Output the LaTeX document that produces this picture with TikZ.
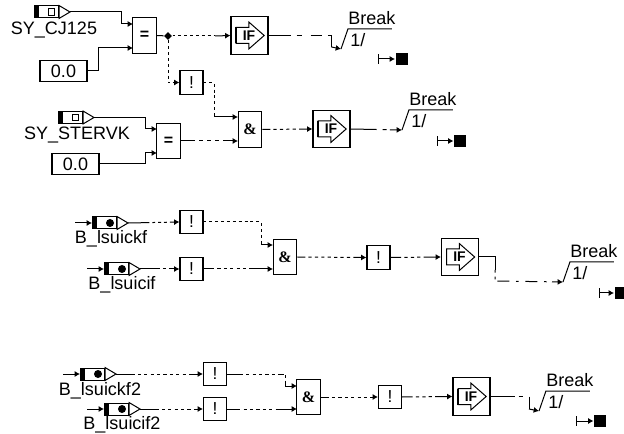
\documentclass[tikz,border=0pt]{standalone}
\usepackage{fontspec}
\setmainfont{Liberation Sans}
\newfontfamily\ampfont{Liberation Serif}
\usetikzlibrary{arrows.meta,shapes.geometric}
\tikzset{
  x=0.75pt,y=-0.75pt,
  every path/.style={line width=0.75pt},
  lab/.style={inner sep=0pt,font=\fontsize{13.5}{15}\selectfont},
  box/.style={draw,fill=white,inner sep=0pt,line width=0.8pt},
  notbox/.style={box,minimum width=17.25pt,minimum height=17.6pt,font=\fontsize{13}{13}\selectfont},
  opbox/.style={box,minimum width=17.6pt,minimum height=26.5pt,font=\fontsize{12}{12}\selectfont\bfseries},
  ifbox/.style={box,minimum width=27.75pt,minimum height=28pt},
  constbox/.style={box,minimum width=35.25pt,minimum height=15.4pt,font=\fontsize{13.5}{15}\selectfont},
  tagbody/.style={draw,fill=white,inner sep=0pt,minimum width=18pt,minimum height=9pt},
  termsq/.style={fill=black,inner sep=0pt,minimum size=9pt},
  junction/.style={diamond,fill=black,inner sep=0pt,minimum size=6pt},
  link/.style={-{Latex[length=4pt,width=4.5pt]}},
  dashC/.style={dash pattern=on 2.2pt off 2.2pt},
}
\newcommand{\tagshape}[4]{% name, left x, y, symbol(0 square,1 dot)
  \node[tagbody,anchor=west] (#1) at (#2,#3) {};
  \coordinate (#1tip) at ([xshift=8.25pt]#1.east);
  \filldraw[fill=white] (#1.north east) -- (#1tip) -- (#1.south east) -- cycle;
  \fill (#1.north west) rectangle ([xshift=4pt]#1.south west);
  \ifnum#4=0
    \draw[fill=white] ([xshift=10.5pt,yshift=-2.6pt]#1.west) rectangle ([xshift=15.5pt,yshift=2.6pt]#1.west);
  \else
    \fill ([xshift=13.5pt]#1.west) circle (3pt);
  \fi
}
\newcommand{\ifsym}[1]{%
  \draw[fill=white] ([shift={(-10.1pt,-6pt)}]#1.center) -- ([shift={(-0.4pt,-6pt)}]#1.center) -- ([shift={(-0.4pt,-10pt)}]#1.center) -- ([shift={(11pt,0pt)}]#1.center) -- ([shift={(-0.4pt,10pt)}]#1.center) -- ([shift={(-0.4pt,6pt)}]#1.center) -- ([shift={(-10.1pt,6pt)}]#1.center) -- cycle;
  \draw[line width=1.2pt] ([shift={(-10.1pt,-6pt)}]#1.center) -- ([shift={(-10.1pt,6pt)}]#1.center);
  \node[inner sep=0pt,font=\fontsize{10.5}{11}\selectfont\bfseries] at ([xshift=-0.4pt,yshift=0.2pt]#1.center) {IF};
}
\newcommand{\breaksym}[3]{% name, foot x, foot y
  \coordinate (#1) at (#2,#3);
  \coordinate (#1top) at ([shift={(5.2pt,15pt)}]#1);
  \draw (#1) -- (#1top) -- ([xshift=33pt]#1top);
  \node[lab] at ([shift={(18pt,8.25pt)}]#1top) {Break};
  \node[lab] at ([shift={(7.5pt,-8pt)}]#1top) {1/};
}
\newcommand{\termsym}[4]{% name, bar x, y, square centre x
  \coordinate (#1bar) at (#2,#3);
  \node[termsq] (#1) at (#4,#3) {};
  \draw ([yshift=-3.6pt]#1bar) -- ([yshift=3.6pt]#1bar);
  \draw[link] (#1bar) -- (#1.west);
}
\begin{document}
\begin{tikzpicture}
\useasboundingbox (0,0) rectangle (624,434);

% --- group 1
\tagshape{tA}{34}{12}{0}
\node[lab] at (54,30) {SY\_CJ125};
\node[opbox] (eqA) at (144.5,35.5) {=};
\node[constbox] (cA) at (63.5,71) {0.0};
\node[ifbox] (ifA) at (249.5,35.5) {};
\ifsym{ifA}
\node[notbox] (nA) at (191.5,82.5) {!};
\node[junction] (jA) at (168,36) {};
\breaksym{bA}{341}{49}
\termsym{tmA}{378}{59}{401.5}
\coordinate (eqAa) at (133,24);
\coordinate (eqAb) at (133,48);
\coordinate (ifAin) at (215,36);
\coordinate (ifAdrop) at (331.5,47);
\draw[link] (tAtip) -- (121,12) -- (121,24) -- (eqAa);
\draw[link] (cA.east) -- (98,71) -- (98,48) -- (eqAb);
\draw (eqA.east) -- (jA);
\draw[dashC] (jA) -- (ifAin);
\draw[link] (ifAin) -- (ifA.west);
\draw[link,dashC] (jA) |- (nA.west);
\draw[dash pattern=on 16.5pt off 4.5pt on 4pt off 6.5pt on 8.5pt off 4.5pt on 3pt off 0.2pt on 60pt off 0pt] (ifA.east) -- (ifAdrop |- ifA.east) -- (ifAdrop);
\draw[link] (ifAdrop) -- (bA);

% --- group 2
\tagshape{tB}{58}{117.5}{0}
\node[lab] at (77,135) {SY\_STERVK};
\node[opbox] (eqB) at (168.5,141) {=};
\node[constbox] (cB) at (75.5,164) {0.0};
\node[opbox] (andA) at (250,129.5) {\ampfont\&};
\node[ifbox] (ifB) at (331.5,129) {};
\ifsym{ifB}
\breaksym{bB}{402}{130}
\termsym{tmB}{437}{141}{460}
\coordinate (eqBa) at (157,129);
\coordinate (eqBb) at (157,153);
\coordinate (andAa) at (238,117);
\coordinate (andAb) at (238,141);
\coordinate (eqBs) at (225,141);
\coordinate (nAdrop) at (214,117);
\draw[link] (tBtip) -- (145,117.5) -- (145,129) -- (eqBa);
\draw[link] (cB.east) -- (145,164) -- (145,153) -- (eqBb);
\draw[dashC] (nA.east) -- (nAdrop |- nA.east) -- (nAdrop);
\draw[link] (nAdrop) -- (andAa);
\draw[dash pattern=on 11pt off 3pt on 3pt off 3pt on 3pt off 3pt on 3pt off 3pt on 5pt off 0pt] (eqB.east) -- (eqBs);
\draw[link] (eqBs) -- (andAb);
\draw[link,dash pattern=on 6pt off 2.4pt on 2.4pt off 2.4pt on 2.4pt off 2.4pt on 2.4pt off 2.4pt on 2.4pt off 2.4pt on 20pt off 2.4pt] (andA.east) -- (ifB.west);
\draw[link,dash pattern=on 19.5pt off 4.5pt on 3pt off 2.5pt on 30pt off 2pt] (ifB.east) -- (bB);

% --- group 3
\coordinate (sC) at (75,223);
\tagshape{tC}{92}{223}{1}
\node[lab] at (111,239) {B\_lsuickf};
\coordinate (sD) at (87,269);
\tagshape{tD}{104}{269}{1}
\node[lab] at (122,285) {B\_lsuicif};
\node[notbox] (nC) at (191.5,222) {!};
\node[notbox] (nD) at (191.5,269) {!};
\node[opbox] (andB) at (285,257) {\ampfont\&};
\node[notbox] (nE) at (378.5,257.5) {!};
\node[ifbox] (ifC) at (460,257) {};
\ifsym{ifC}
\breaksym{bC}{563}{282}
\termsym{tmC}{599}{293}{620.5}
\coordinate (andBa) at (273,245);
\coordinate (andBb) at (273,269);
\coordinate (nCdrop) at (261,245);
\coordinate (ifCv) at (495,270);
\coordinate (ifCh) at (495,281);
\draw[link] (sC) -- (tC.west);
\draw[link] (sD) -- (tD.west);
\draw[link,dash pattern=on 16pt off 2.2pt on 2.2pt off 2.2pt on 2.2pt off 2.2pt on 2.2pt off 2.2pt on 30pt off 2pt] (tCtip) -- (nC.west);
\draw[link,dash pattern=on 15pt off 2.2pt on 2.2pt off 2.2pt on 30pt off 2pt] (tDtip) -- (nD.west);
\draw[dashC] (nC.east) -- (nCdrop |- nC.east) -- (nCdrop);
\draw[link] (nCdrop) -- (andBa);
\draw[link,dash pattern=on 8pt off 2.4pt on 2.4pt off 2.4pt on 2.4pt off 2.4pt on 2.4pt off 2.4pt on 2.4pt off 2.4pt on 2.4pt off 2.4pt on 20pt off 2pt] (nD.east) -- (andBb);
\draw[link,dash pattern=on 6pt off 2.4pt on 2.4pt off 2.4pt on 2.4pt off 2.4pt on 2.4pt off 2.4pt on 2.4pt off 2.4pt on 2.4pt off 2.4pt on 2.4pt off 2.4pt on 2.4pt off 2.4pt on 14pt off 2pt] (andB.east) -- (nE.west);
\draw[link,dash pattern=on 8pt off 2.4pt on 2.4pt off 2.4pt on 2.4pt off 2.4pt on 2.4pt off 2.4pt on 20pt off 2pt] (nE.east) -- (ifC.west);
\draw (ifC.east) -- (ifCv |- ifC.east) -- (ifCv);
\draw[link,dash pattern=on 2pt off 3pt on 2pt off 3pt on 9pt off 5pt on 2pt off 5pt on 9pt off 5pt on 2pt off 4pt on 30pt off 2pt] (ifCv) -- (ifCh) -- (bC);

% --- group 4
\coordinate (sF) at (63,374);
\tagshape{tF}{80}{374}{1}
\node[lab] at (100,391) {B\_lsuickf2};
\coordinate (sG) at (87,409);
\tagshape{tG}{104}{409}{1}
\node[lab] at (122,425) {B\_lsuicif2};
\node[notbox] (nF) at (215,374) {!};
\node[notbox] (nG) at (215,409) {!};
\node[opbox] (andC) at (308.5,397) {\ampfont\&};
\node[notbox] (nH) at (390,397) {!};
\node[ifbox] (ifD) at (471.5,396.5) {};
\ifsym{ifD}
\breaksym{bD}{539}{411}
\termsym{tmD}{576}{421}{600}
\coordinate (andCa) at (297,386);
\coordinate (andCb) at (297,409);
\coordinate (nFdrop) at (285,386);
\coordinate (ifDv) at (529,400);
\coordinate (ifDh) at (529,409);
\draw[link] (sF) -- (tF.west);
\draw[link] (sG) -- (tG.west);
\draw[link,dash pattern=on 14pt off 2.4pt on 2.4pt off 2.4pt on 2.4pt off 2.4pt on 2.4pt off 2.4pt on 2.4pt off 2.4pt on 2.4pt off 2.4pt on 2.4pt off 2.4pt on 2.4pt off 2.4pt on 2.4pt off 2.4pt on 8pt off 2.4pt] (tFtip) -- (nF.west);
\draw[link,dash pattern=on 14pt off 2.4pt on 2.4pt off 2.4pt on 2.4pt off 2.4pt on 2.4pt off 2.4pt on 2.4pt off 2.4pt on 2.4pt off 2.4pt on 20pt off 2pt] (tGtip) -- (nG.west);
\draw[dash pattern=on 12pt off 2.4pt on 2.4pt off 2.4pt on 2.4pt off 2.4pt on 2.4pt off 2.4pt on 2.4pt off 2.4pt on 2.4pt off 2.4pt on 4pt off 2pt on 2pt off 2pt] (nF.east) -- (nFdrop |- nF.east) -- (nFdrop);
\draw[link] (nFdrop) -- (andCa);
\draw[link,dash pattern=on 10pt off 2.4pt on 2.4pt off 2.4pt on 2.4pt off 2.4pt on 2.4pt off 2.4pt on 2.4pt off 2.4pt on 2.4pt off 2.4pt on 20pt off 2pt] (nG.east) -- (andCb);
\draw[link,dash pattern=on 6pt off 2.4pt on 2.4pt off 2.4pt on 2.4pt off 2.4pt on 2.4pt off 2.4pt on 2.4pt off 2.4pt on 2.4pt off 2.4pt on 2.4pt off 2.4pt on 14pt off 2pt] (andC.east) -- (nH.west);
\draw[link,dash pattern=on 8pt off 2.4pt on 2.4pt off 2.4pt on 2.4pt off 2.4pt on 2.4pt off 2.4pt on 20pt off 2pt] (nH.east) -- (ifD.west);
\draw[dash pattern=on 18pt off 3pt on 3pt off 5pt on 40pt off 2pt] (ifD.east) -- (ifDv |- ifD.east) -- (ifDv);
\draw (ifDv) -- (ifDh);
\draw[link] (ifDh) -- (bD);
\end{tikzpicture}
\end{document}
